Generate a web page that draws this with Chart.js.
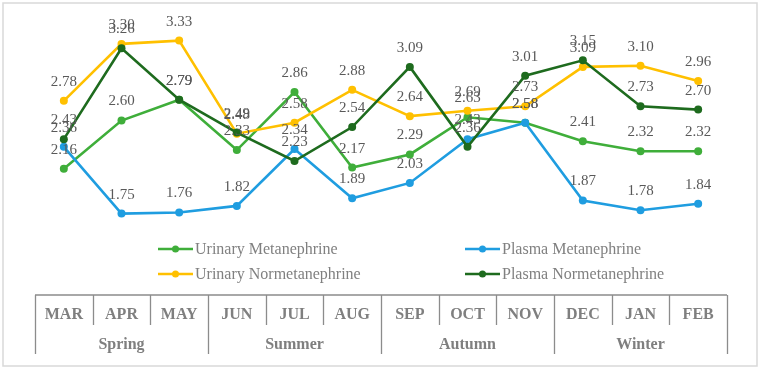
<!DOCTYPE html>
<html>
<head>
<meta charset="utf-8">
<script src="https://cdn.jsdelivr.net/npm/chart.js@4"></script>
<style>
  html, body { margin: 0; padding: 0; background: #fff; }
  #wrap { width: 762px; height: 370px; position: relative; }
</style>
</head>
<body>
<div id="wrap"><canvas id="seasonChart"></canvas></div>
<script>
// months and seasons
const months = ['MAR', 'APR', 'MAY', 'JUN', 'JUL', 'AUG', 'SEP', 'OCT', 'NOV', 'DEC', 'JAN', 'FEB'];
const seasons = ['Spring', 'Summer', 'Autumn', 'Winter'];

// values
const urinaryMet    = [2.16, 2.60, 2.79, 2.33, 2.86, 2.17, 2.29, 2.63, 2.58, 2.41, 2.32, 2.32];
const plasmaMet     = [2.36, 1.75, 1.76, 1.82, 2.34, 1.89, 2.03, 2.43, 2.58, 1.87, 1.78, 1.84];
const urinaryNormet = [2.78, 3.30, 3.33, 2.48, 2.58, 2.88, 2.64, 2.69, 2.73, 3.09, 3.10, 2.96];
const plasmaNormet  = [2.43, 3.26, 2.79, 2.49, 2.23, 2.54, 3.09, 2.36, 3.01, 3.15, 2.73, 2.70];

const serif = '"Liberation Serif", "Times New Roman", serif';

function makeSet(label, data, color, order) {
    return {
        label: label,
        data: data,
        borderColor: color,
        backgroundColor: color,
        borderWidth: 2.6,
        pointRadius: 4,
        pointHoverRadius: 4,
        pointBorderWidth: 0,
        tension: 0,
        order: order
    };
}

// value labels above every point
const valueLabels = {
    id: 'valueLabels',
    afterDatasetsDraw(chart) {
        const ctx = chart.ctx;
        ctx.save();
        ctx.font = '15px ' + serif;
        ctx.fillStyle = '#595959';
        ctx.textAlign = 'center';
        ctx.textBaseline = 'middle';
        chart.data.datasets.forEach((ds, i) => {
            const meta = chart.getDatasetMeta(i);
            meta.data.forEach((pt, j) => {
                ctx.fillText(ds.data[j].toFixed(2), pt.x, pt.y - 19);
            });
        });
        ctx.restore();
    }
};

// legend (2 x 2) and the month / season table under the plot
const frame = {
    id: 'frame',
    afterDraw(chart) {
        const ctx = chart.ctx;
        const x = chart.scales.x;
        const area = chart.chartArea;
        ctx.save();

        // outer border
        ctx.strokeStyle = '#d9d9d9';
        ctx.lineWidth = 1.5;
        ctx.strokeRect(3, 3, 754, 363);

        // legend
        const items = [
            [0, 158, 249], [1, 465, 249],
            [2, 158, 274], [3, 465, 274]
        ];
        ctx.font = '16px ' + serif;
        ctx.textBaseline = 'middle';
        ctx.textAlign = 'left';
        items.forEach(([i, lx, ly]) => {
            const ds = chart.data.datasets[i];
            ctx.strokeStyle = ds.borderColor;
            ctx.lineWidth = 2.6;
            ctx.beginPath();
            ctx.moveTo(lx, ly);
            ctx.lineTo(lx + 35, ly);
            ctx.stroke();
            ctx.fillStyle = ds.borderColor;
            ctx.beginPath();
            ctx.arc(lx + 17.5, ly, 3.5, 0, Math.PI * 2);
            ctx.fill();
            ctx.fillStyle = '#808080';
            ctx.fillText(ds.label, lx + 37, ly + 1);
        });

        // table
        const top = 295, mid = 325, bottom = 354;
        const left = area.left, right = area.right;
        const edge = k => {
            if (k <= 0) return left;
            if (k >= months.length) return right;
            return (x.getPixelForValue(k - 1) + x.getPixelForValue(k)) / 2;
        };
        ctx.strokeStyle = '#8c8c8c';
        ctx.lineWidth = 1.3;
        ctx.beginPath();
        ctx.moveTo(left, top);
        ctx.lineTo(right, top);
        for (let k = 0; k <= months.length; k++) {
            const ex = Math.round(edge(k)) + 0.5;
            ctx.moveTo(ex, top);
            ctx.lineTo(ex, k % 3 === 0 ? bottom : mid);
        }
        ctx.stroke();

        ctx.fillStyle = '#7f7f7f';
        ctx.textAlign = 'center';
        ctx.font = 'bold 16px ' + serif;
        months.forEach((m, i) => {
            ctx.fillText(m, x.getPixelForValue(i), 315);
        });
        seasons.forEach((s, i) => {
            const cx = (edge(i * 3) + edge(i * 3 + 3)) / 2;
            ctx.fillText(s, cx, 345);
        });
        ctx.restore();
    }
};

const ctx = document.getElementById('seasonChart').getContext('2d');
ctx.canvas.width = 762;
ctx.canvas.height = 370;

new Chart(ctx, {
    type: 'line',
    data: {
        labels: months,
        datasets: [
            makeSet('Urinary Metanephrine', urinaryMet, '#3fae3a', 4),
            makeSet('Plasma Metanephrine', plasmaMet, '#1f9de0', 3),
            makeSet('Urinary Normetanephrine', urinaryNormet, '#ffc000', 2),
            makeSet('Plasma Normetanephrine', plasmaNormet, '#1e6b1e', 1)
        ]
    },
    options: {
        responsive: false,
        animation: false,
        layout: {
            padding: { top: 22, bottom: 140, left: 35, right: 35 }
        },
        scales: {
            x: { display: false, offset: true },
            y: { display: false, min: 1.6, max: 3.5 }
        },
        plugins: {
            legend: { display: false },
            tooltip: { enabled: false }
        }
    },
    plugins: [valueLabels, frame]
});
</script>
</body>
</html>
